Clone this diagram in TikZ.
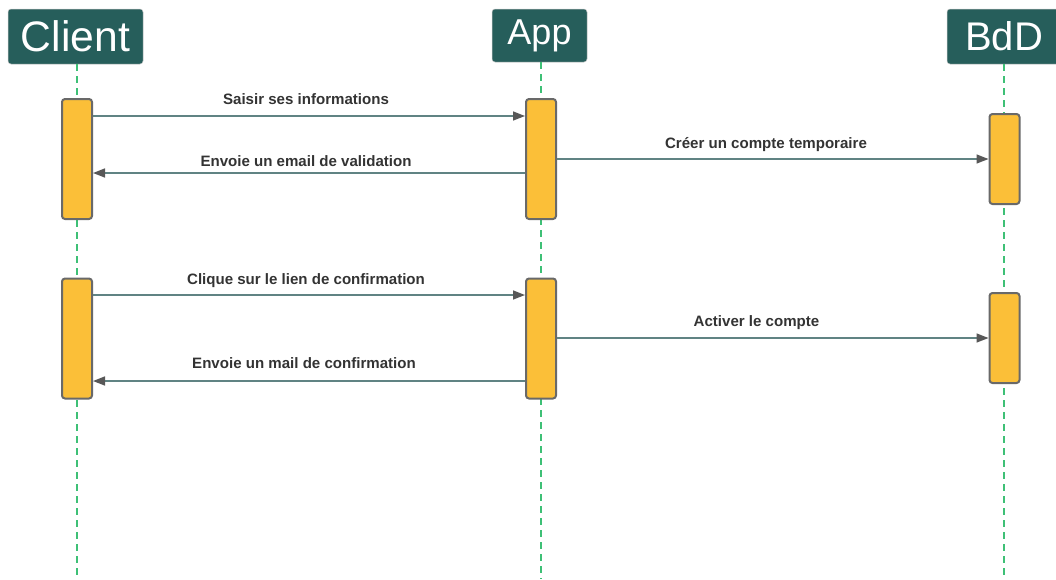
\documentclass[tikz,border=0pt]{standalone}
\usepackage{fontspec}
\setmainfont{Liberation Sans}
\usetikzlibrary{arrows.meta}

\newlength{\du}
\setlength{\du}{0.75pt}

\definecolor{headfill}{RGB}{38,94,91}
\definecolor{barfill}{RGB}{251,191,56}
\definecolor{barline}{RGB}{105,105,105}
\definecolor{msgline}{RGB}{96,131,131}
\definecolor{msghead}{RGB}{88,88,88}
\definecolor{lifecolor}{RGB}{62,192,118}
\definecolor{msgtext}{RGB}{51,51,51}

\tikzset{
  header/.style={fill=headfill, draw=gray!45, line width=0.5\du, rounded corners=3\du,
    text=white, inner sep=0pt, minimum height=55\du},
  lifeline/.style={lifecolor, line width=2\du, dash pattern=on 7\du off 5\du},
  actbar/.style={fill=barfill, draw=barline, line width=2\du, rounded corners=3\du,
    minimum width=30\du, inner sep=0pt},
  % tip sizes in pt (12 and 9 units)
  msg/.style={msgline, line width=1.5\du,
    -{Triangle[length=9pt, width=6.75pt, color=msghead]}},
  msglabel/.style={anchor=base, text=msgtext, font=\fontsize{11.3}{13}\selectfont\bfseries, inner sep=0pt}
}

\begin{document}
\begin{tikzpicture}
\useasboundingbox (0,0) rectangle (1056\du,-579\du);

% participants
\node[header, minimum width=135\du, font=\fontsize{32}{36}\selectfont] (client) at (75.5\du,-36.5\du) {Client};
\node[header, minimum width=95\du, minimum height=53\du, font=\fontsize{27}{32}\selectfont] (app) at (539.5\du,-35.5\du) {App};
\node[header, minimum width=114\du, font=\fontsize{30}{34}\selectfont] (bdd) at (1004\du,-36.5\du) {BdD};

% lifelines
\coordinate (clientend) at (77\du,-579\du);
\coordinate (append) at (540.5\du,-579\du);
\coordinate (bddend) at (1004\du,-579\du);
\draw[lifeline] (client.south -| clientend) -- (clientend);
\draw[lifeline] (app.south -| append) -- (append);
\draw[lifeline] (bdd.south -| bddend) -- (bddend);

% activation bars
\node[actbar, minimum height=120\du] (client1) at (77\du,-159\du) {};
\node[actbar, minimum height=120\du] (client2) at (77\du,-338.5\du) {};
\node[actbar, minimum height=120\du] (app1) at (541\du,-159\du) {};
\node[actbar, minimum height=120\du] (app2) at (541\du,-338.5\du) {};
\node[actbar, minimum height=90\du] (bdd1) at (1004.5\du,-159\du) {};
\node[actbar, minimum height=90\du] (bdd2) at (1004.5\du,-338\du) {};

% heights of the messages
\coordinate (y1) at (0,-116\du);
\coordinate (y2) at (0,-173\du);
\coordinate (y3) at (0,-159\du);
\coordinate (y4) at (0,-295\du);
\coordinate (y5) at (0,-338\du);
\coordinate (y6) at (0,-381\du);

% messages
\draw[msg] (client1.east |- y1) -- (app1.west |- y1);
\draw[msg] (app1.west |- y2) -- (client1.east |- y2);
\draw[msg] (app1.east |- y3) -- (bdd1.west |- y3);
\draw[msg] (client2.east |- y4) -- (app2.west |- y4);
\draw[msg] (app2.east |- y5) -- (bdd2.west |- y5);
\draw[msg] (app2.west |- y6) -- (client2.east |- y6);

% message texts
\node[msglabel] (saisir) at (306\du,-104\du) {Saisir ses informations};
\node[msglabel] (validation) at (306\du,-166.5\du) {Envoie un email de validation};
\node[msglabel] (creer) at (766\du,-148.5\du) {Créer un compte temporaire};
\node[msglabel] (clique) at (306\du,-284\du) {Clique sur le lien de confirmation};
\node[msglabel] (activer) at (756.5\du,-326.5\du) {Activer le compte};
\node[msglabel] (confirmation) at (304\du,-368\du) {Envoie un mail de confirmation};
\end{tikzpicture}
\end{document}
